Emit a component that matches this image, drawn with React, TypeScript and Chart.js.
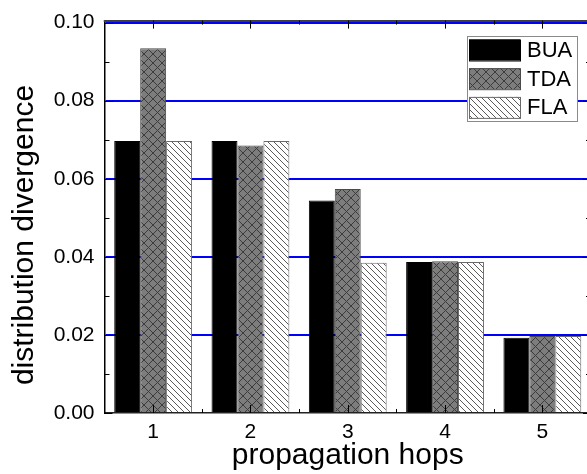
import React, { useEffect, useRef } from "react";
import { Chart, registerables } from "chart.js";

Chart.register(...registerables);

const categories = ["1", "2", "3", "4", "5"];
const seriesLabels = ["BUA", "TDA", "FLA"];
const buaValues = [0.0697, 0.0697, 0.0544, 0.0387, 0.0193];
const tdaValues = [0.0934, 0.0685, 0.0574, 0.0389, 0.0197];
const flaValues = [0.0697, 0.0697, 0.0385, 0.0387, 0.0197];
const yTicks = [0, 0.02, 0.04, 0.06, 0.08, 0.1];
const yMinorTicks = [0.01, 0.03, 0.05, 0.07, 0.09];
const xTitle = "propagation hops";
const yTitle = "distribution divergence";

const FONT = '"Liberation Sans", Arial, sans-serif';

function makeCrossPattern(): CanvasPattern | string {
  const s = 9;
  const c = document.createElement("canvas");
  c.width = s;
  c.height = s;
  const g = c.getContext("2d");
  if (!g) return "#7c7c7c";
  g.fillStyle = "#7d7d7d";
  g.fillRect(0, 0, s, s);
  g.strokeStyle = "#3c3c3c";
  g.lineWidth = 1;
  g.beginPath();
  g.moveTo(-1, -1);
  g.lineTo(s + 1, s + 1);
  g.moveTo(s + 1, -1);
  g.lineTo(-1, s + 1);
  g.stroke();
  return g.createPattern(c, "repeat") || "#7c7c7c";
}

function makeDiagPattern(): CanvasPattern | string {
  const s = 6;
  const c = document.createElement("canvas");
  c.width = s;
  c.height = s;
  const g = c.getContext("2d");
  if (!g) return "#fff";
  g.fillStyle = "#ffffff";
  g.fillRect(0, 0, s, s);
  g.strokeStyle = "#5a5a5a";
  g.lineWidth = 1;
  g.beginPath();
  g.moveTo(-1, -1);
  g.lineTo(s + 1, s + 1);
  g.moveTo(s - 1, -1);
  g.lineTo(s + 1, 1);
  g.moveTo(-1, s - 1);
  g.lineTo(1, s + 1);
  g.stroke();
  return g.createPattern(c, "repeat") || "#fff";
}

const framePlugin = {
  id: "frameTicks",
  afterDatasetsDraw(chart: any) {
    const { ctx, chartArea: a, scales } = chart;
    const xs = scales.x;
    const ys = scales.y;
    ctx.save();
    ctx.strokeStyle = "#000";
    ctx.lineWidth = 1.5;
    ctx.beginPath();
    ctx.moveTo(a.left - 0.75, a.top - 1.5);
    ctx.lineTo(a.right, a.top - 1.5);
    ctx.moveTo(a.right, a.top - 1.5);
    ctx.lineTo(a.right, a.bottom);
    ctx.stroke();

    ctx.lineWidth = 1;
    ctx.beginPath();
    yTicks.forEach((v) => {
      const py = Math.round(ys.getPixelForValue(v)) + 0.5;
      ctx.moveTo(a.left, py);
      ctx.lineTo(a.left + 8, py);
      ctx.moveTo(a.right, py);
      ctx.lineTo(a.right - 8, py);
    });
    yMinorTicks.forEach((v) => {
      const py = Math.round(ys.getPixelForValue(v)) + 0.5;
      ctx.moveTo(a.left, py);
      ctx.lineTo(a.left + 5, py);
      ctx.moveTo(a.right, py);
      ctx.lineTo(a.right - 5, py);
    });
    categories.forEach((_, i) => {
      const px = Math.round(xs.getPixelForValue(i)) + 0.5;
      ctx.moveTo(px, a.bottom);
      ctx.lineTo(px, a.bottom - 8);
      ctx.moveTo(px, a.top - 2);
      ctx.lineTo(px, a.top + 6);
      if (i < categories.length - 1) {
        const mx = Math.round((xs.getPixelForValue(i) + xs.getPixelForValue(i + 1)) / 2) + 0.5;
        ctx.moveTo(mx, a.bottom);
        ctx.lineTo(mx, a.bottom - 4);
        ctx.moveTo(mx, a.top - 2);
        ctx.lineTo(mx, a.top + 2);
      }
    });
    ctx.stroke();
    ctx.restore();
  },
  afterDraw(chart: any) {
    const { ctx } = chart;
    ctx.save();
    // y axis title
    ctx.fillStyle = "#000";
    ctx.font = `30px ${FONT}`;
    ctx.translate(33, 235);
    ctx.rotate(-Math.PI / 2);
    ctx.textAlign = "center";
    ctx.textBaseline = "alphabetic";
    ctx.fillText(yTitle, 0, 0);
    ctx.restore();

    // legend
    ctx.save();
    const bx = 467;
    const by = 36;
    const bw = 110;
    const bh = 85;
    ctx.fillStyle = "#fff";
    ctx.fillRect(bx, by, bw, bh);
    ctx.strokeStyle = "#8a8a8a";
    ctx.lineWidth = 1;
    ctx.strokeRect(bx + 0.5, by + 0.5, bw, bh);
    chart.data.datasets.forEach((ds: any, i: number) => {
      const sy = 39.5 + i * 28.7;
      ctx.fillStyle = ds.backgroundColor;
      ctx.fillRect(469, sy, 51, 21);
      ctx.strokeStyle = ds.borderColor;
      ctx.lineWidth = 1;
      ctx.strokeRect(469.5, sy + 0.5, 51, 21);
      ctx.fillStyle = "#000";
      ctx.font = `22px ${FONT}`;
      ctx.textAlign = "left";
      ctx.textBaseline = "middle";
      ctx.fillText(ds.label, 527, sy + 11.5);
    });
    ctx.restore();
  },
};

export default function App() {
  const ref = useRef<HTMLCanvasElement | null>(null);

  useEffect(() => {
    if (!ref.current) return;
    const cross = makeCrossPattern();
    const diag = makeDiagPattern();
    const chart = new Chart(ref.current, {
      type: "bar",
      data: {
        labels: categories,
        datasets: [
          {
            label: seriesLabels[0],
            data: buaValues,
            backgroundColor: "#000000",
            borderColor: "#000000",
            borderWidth: 1,
            categoryPercentage: 0.8,
            barPercentage: 1.0,
          },
          {
            label: seriesLabels[1],
            data: tdaValues,
            backgroundColor: cross as any,
            borderColor: "#4a4a4a",
            borderWidth: 1,
            categoryPercentage: 0.8,
            barPercentage: 1.0,
          },
          {
            label: seriesLabels[2],
            data: flaValues,
            backgroundColor: diag as any,
            borderColor: "#6a6a6a",
            borderWidth: 1,
            categoryPercentage: 0.8,
            barPercentage: 1.0,
          },
        ],
      },
      options: {
        responsive: false,
        animation: false,
        layout: { padding: { left: 0, right: 9, top: 20, bottom: 0 } },
        plugins: {
          legend: { display: false },
          tooltip: { enabled: false },
          title: { display: false },
        },
        scales: {
          x: {
            type: "category",
            offset: true,
            grid: { display: false, drawTicks: false },
            border: { display: true, color: "#222", width: 1.5 },
            ticks: { color: "#000", font: { family: FONT, size: 21 }, padding: 7 },
            title: {
              display: true,
              text: xTitle,
              color: "#000",
              font: { family: FONT, size: 30 },
              padding: { top: 0, bottom: 0 },
            },
            afterFit: (s: any) => {
              s.height = 61;
            },
          },
          y: {
            min: 0,
            max: 0.1,
            afterBuildTicks: (s: any) => {
              s.ticks = yTicks.map((v) => ({ value: v }));
            },
            grid: {
              color: (c: any) => (c.tick && c.tick.value === 0 ? "rgba(0,0,0,0)" : "#0000ff"),
              lineWidth: 2,
              drawTicks: false,
            },
            border: { display: true, color: "#000", width: 1.5 },
            ticks: {
              color: "#000",
              font: { family: FONT, size: 21 },
              padding: 10,
              callback: (v: any) => Number(v).toFixed(2),
            },
            afterFit: (s: any) => {
              s.width = 104.5;
            },
          },
        },
      },
      plugins: [framePlugin],
    });
    return () => chart.destroy();
  }, []);

  return (
    <div
      style={{
        position: "fixed",
        left: 0,
        top: 0,
        width: 587,
        height: 474,
        overflow: "hidden",
        background: "#fff",
      }}
    >
      <canvas ref={ref} width={600} height={474} style={{ width: 600, height: 474, display: "block" }} />
    </div>
  );
}
